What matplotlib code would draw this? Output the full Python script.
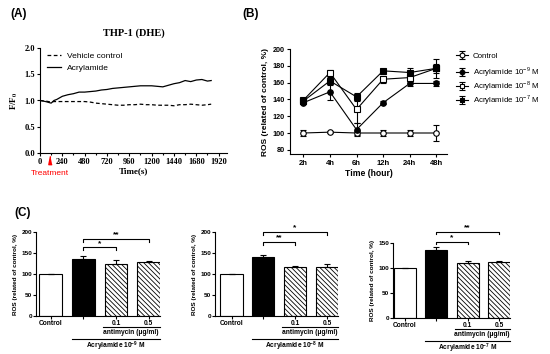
import numpy as np
import matplotlib
matplotlib.use('Agg')
import matplotlib.pyplot as plt

W, H = 550, 354
SANS = 'Liberation Sans'
SERIF = 'Liberation Serif'

plt.rcParams['font.family'] = [SANS, 'DejaVu Sans']
plt.rcParams['mathtext.fontset'] = 'custom'
plt.rcParams['mathtext.rm'] = SANS
plt.rcParams['mathtext.bf'] = SANS + ':bold'
plt.rcParams['hatch.linewidth'] = 0.6
plt.rcParams['axes.linewidth'] = 0.8

# (A) THP-1 DHE fluorescence, F/F0 over time
time_s = [0, 60, 120, 150, 180, 240, 300, 360, 420, 480, 540, 600, 660, 720,
          780, 840, 900, 960, 1020, 1080, 1140, 1200, 1260, 1320, 1380, 1440,
          1500, 1560, 1620, 1680, 1740, 1800, 1840]
acryl = [1.00, 0.98, 0.95, 1.00, 1.02, 1.08, 1.11, 1.13, 1.16, 1.16, 1.17,
         1.18, 1.20, 1.21, 1.23, 1.24, 1.25, 1.26, 1.27, 1.28, 1.28, 1.28,
         1.27, 1.26, 1.29, 1.32, 1.34, 1.38, 1.36, 1.39, 1.40, 1.37, 1.38]
vehicle = [1.00, 0.99, 0.97, 0.98, 0.98, 0.98, 0.98, 0.98, 0.98, 0.98, 0.97,
           0.95, 0.94, 0.93, 0.92, 0.91, 0.91, 0.92, 0.92, 0.93, 0.92, 0.92,
           0.91, 0.91, 0.91, 0.90, 0.92, 0.92, 0.93, 0.92, 0.91, 0.92, 0.93]
treat_t = 110

# (B) ROS over time
hours = ['2h', '4h', '6h', '12h', '24h', '48h']
ctrl_mean = [100, 101, 100, 100, 100, 100]
ctrl_err = [4, 1, 2, 3, 3, 10]
a9_mean = [136, 149, 104, 136, 159, 159]
a9_err = [2, 10, 8, 2, 3, 3]
a8_mean = [139, 172, 128, 164, 166, 177]
a8_err = [2, 3, 16, 4, 4, 5]
a7_mean = [138, 162, 143, 174, 172, 177]
a7_err = [2, 5, 5, 1, 5, 11]

# (C) antimycin
c_labels = ['Control', '', '0.1', '0.5']
c_means = [[100, 136, 124, 128], [100, 140, 117, 117], [100, 137, 110, 112]]
c_errs = [[0, 7, 10, 4], [0, 6, 2, 6], [0, 5, 5, 3]]
c_conc = ['-9', '-8', '-7']
c_ymax = [200, 200, 150]
c_brackets = [[(1, 2, 164, '*'), (1, 3, 184, '**')],
              [(1, 2, 177, '**'), (1, 3, 201, '*')],
              [(1, 2, 153, '*'), (1, 3, 173, '**')]]


def box(l, t, r, b):
    return [l / W, 1 - b / H, (r - l) / W, (b - t) / H]


fig = plt.figure(figsize=(W / 100, H / 100), dpi=100)

# ---- panel A
axA = fig.add_axes(box(40, 48, 227, 153))
axA.plot(time_s, vehicle, color='black', lw=0.9, ls=(0, (3, 2)), label='Vehicle control')
axA.plot(time_s, acryl, color='black', lw=0.9, label='Acrylamide')
axA.set_xlim(0, 2010)
axA.set_ylim(0, 2.0)
xt = list(range(0, 1921, 240))
axA.set_xticks(xt, [str(v) for v in xt], family=SERIF, fontweight='bold', fontsize=6)
axA.set_xticks(range(120, 1921, 240), minor=True)
yt = [0.0, 0.5, 1.0, 1.5, 2.0]
axA.set_yticks(yt, ['%.1f' % v for v in yt], family=SERIF, fontweight='bold', fontsize=6)
axA.tick_params(which='both', direction='out', length=2.5, width=0.8, pad=1)
axA.tick_params(which='minor', length=1.5)
for s in ['top', 'right']:
    axA.spines[s].set_visible(False)
axA.set_title('THP-1 (DHE)', family=SERIF, fontweight='bold', fontsize=7.5, pad=9)
axA.set_xlabel('Time(s)', family=SERIF, fontweight='bold', fontsize=6.5, labelpad=1)
axA.set_ylabel(r'F/F$_{\mathbf{0}}$', family=SERIF, fontweight='bold', fontsize=6.5,
               math_fontfamily='stix', labelpad=3)
axA.legend(loc='upper left', bbox_to_anchor=(0.04, 0.96), frameon=False, fontsize=6,
           borderpad=0, borderaxespad=0, handlelength=1.6, handletextpad=0.7,
           labelspacing=0.5)
axA.plot([treat_t], [-0.13], marker=[(0, 1), (-0.4, -1), (0.4, -1)], ms=6,
         color='red', clip_on=False)
axA.text(treat_t, -0.4, 'Treatment', color='red', fontsize=6, ha='center', va='center')

# ---- panel B
axB = fig.add_axes(box(290, 49, 447, 154))
x = np.arange(len(hours))
common = dict(color='black', lw=0.8, elinewidth=0.8, capsize=2, capthick=0.8, ms=4,
              mec='black', mew=0.8)
hC = axB.errorbar(x, ctrl_mean, yerr=ctrl_err, marker='o', mfc='white', **common)
h9 = axB.errorbar(x, a9_mean, yerr=a9_err, marker='o', mfc='black', **common)
h8 = axB.errorbar(x, a8_mean, yerr=a8_err, marker='s', mfc='white', **common)
h7 = axB.errorbar(x, a7_mean, yerr=a7_err, marker='s', mfc='black', **common)
axB.set_xlim(-0.5, 5.4)
axB.set_ylim(75, 200)
axB.set_xticks(x, hours, fontweight='bold', fontsize=5.5)
ybt = list(range(80, 201, 20))
axB.set_yticks(ybt, [str(v) for v in ybt], fontweight='bold', fontsize=5.2)
axB.tick_params(direction='out', length=2.5, width=0.8, pad=1.5)
for s in ['top', 'right']:
    axB.spines[s].set_visible(False)
axB.set_xlabel('Time (hour)', fontweight='bold', fontsize=6.2, labelpad=1.5)
axB.set_ylabel('ROS (related of control, %)', fontweight='bold', fontsize=6, labelpad=2)
legkw = dict(frameon=False, fontsize=5.7, borderpad=0, borderaxespad=0,
             handlelength=1.5, handletextpad=0.6, labelspacing=0.0, loc='upper left',
             markerscale=0.85)
leg1 = axB.legend([hC], ['Control'], bbox_to_anchor=(456 / W, 1 - 52 / H),
                  bbox_transform=fig.transFigure, **legkw)
axB.add_artist(leg1)
axB.legend([h9, h8, h7], ['Acrylamide 10$^{%s}$ M' % c for c in c_conc],
           bbox_to_anchor=(456 / W, 1 - 65 / H), bbox_transform=fig.transFigure, **legkw)

# ---- panel C
c_boxes = [(36, 232, 160, 316), (215, 232, 338, 316), (393, 243, 510, 318)]
c_xlims = [(-0.45, 3.35), (-0.52, 3.35), (-0.37, 3.35)]
hatch = '\\\\\\\\\\\\\\'
for i in range(3):
    l, t, r, b = c_boxes[i]
    ax = fig.add_axes(box(l, t, r, b))
    hpx = b - t
    xc = np.arange(4)
    ax.bar(xc, c_means[i], width=0.7, color=['white', 'black', 'white', 'white'],
           edgecolor='black', linewidth=0.8, hatch=[None, None, hatch, hatch],
           yerr=[[0] * 4, c_errs[i]], error_kw=dict(elinewidth=0.8, capsize=2.5,
                                                    capthick=0.8), zorder=2)
    ax.set_xlim(*c_xlims[i])
    ax.set_ylim(0, c_ymax[i])
    ax.set_xticks(xc, c_labels, fontweight='bold', fontsize=4.8)
    yct = list(range(0, c_ymax[i] + 1, 50))
    ax.set_yticks(yct, [str(v) for v in yct], fontweight='bold', fontsize=4.6)
    ax.tick_params(direction='out', length=2, width=0.8, pad=1)
    for s in ['top', 'right']:
        ax.spines[s].set_visible(False)
    ax.set_ylabel('ROS (related of control, %)', fontweight='bold', fontsize=4.6,
                  labelpad=2)
    drop = 0.035 * c_ymax[i]
    for x0, x1, yb, lab in c_brackets[i]:
        ax.plot([x0, x0, x1, x1], [yb - drop, yb, yb, yb - drop], color='black',
                lw=0.8, clip_on=False)
        ax.text((x0 + x1) / 2, yb, lab, ha='center', va='bottom', fontsize=6,
                fontweight='bold')
    tr = ax.get_xaxis_transform()
    ax.plot([1.6, 3.35], [-11 / hpx] * 2, color='black', lw=0.8, transform=tr,
            clip_on=False)
    ax.text(2.45, -17 / hpx, 'antimycin (\u03bcg/ml)', transform=tr, ha='center',
            va='center', fontsize=4.8, fontweight='bold')
    ax.plot([0.65, 3.35], [-23 / hpx] * 2, color='black', lw=0.8, transform=tr,
            clip_on=False)
    ax.text(2.0, -30.5 / hpx, r'Acrylamide 10$^{\mathbf{%s}}$ M' % c_conc[i],
            transform=tr, ha='center', va='center', fontsize=4.8, fontweight='bold')

fig.text(10 / W, 1 - 14 / H, '(A)', fontsize=8.5, fontweight='bold', va='center')
fig.text(242 / W, 1 - 14 / H, '(B)', fontsize=8.5, fontweight='bold', va='center')
fig.text(14 / W, 1 - 213 / H, '(C)', fontsize=8.5, fontweight='bold', va='center')

fig.savefig('out.png', dpi=100)
